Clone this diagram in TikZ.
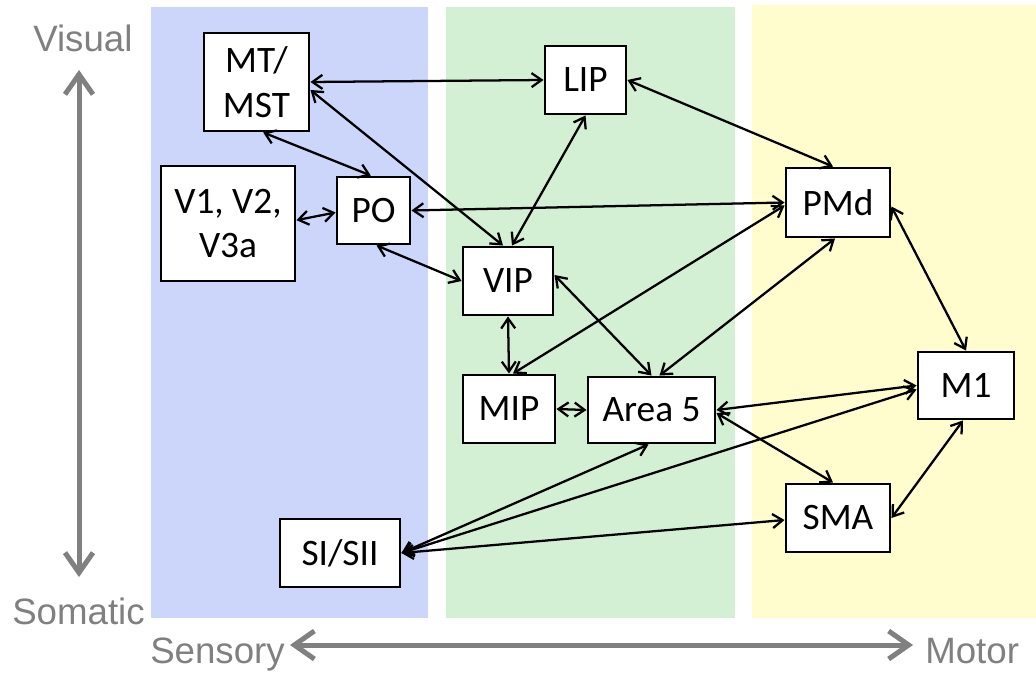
\documentclass[tikz,border=0pt]{standalone}
\usepackage{fontspec}
\setmainfont{Carlito}
\newfontfamily\arialfont{Liberation Sans}
\usetikzlibrary{arrows.meta}
\definecolor{panelblue}{RGB}{204,214,250}
\definecolor{panelgreen}{RGB}{212,240,212}
\definecolor{panelyellow}{RGB}{255,253,206}
\definecolor{axisgray}{RGB}{128,128,128}
\begin{document}
\begin{tikzpicture}[x=0.75pt,y=-0.75pt,
  area/.style={draw=black,line width=2.2pt,fill=white,inner sep=0pt,align=center,font=\fontsize{28}{33.5}\selectfont},
  link/.style={line width=1.7pt,{Straight Barb[length=7.5pt,width=10.5pt]}-{Straight Barb[length=7.5pt,width=10.5pt]}},
  axisarrow/.style={draw=axisgray,line width=3.75pt,{Straight Barb[length=15pt,width=21pt]}-{Straight Barb[length=15pt,width=21pt]}},
  axislabel/.style={text=axisgray,font=\arialfont\fontsize{27.5}{33}\selectfont,inner sep=0pt,anchor=base west}]
\useasboundingbox (0,0) rectangle (1036,674);
\fill[white] (0,0) rectangle (1036,674);
% panels
\fill[panelblue] (151,7) rectangle (428,618);
\fill[panelgreen] (446,7) rectangle (735,618);
\fill[panelyellow] (752,5) rectangle (1036,618);
% axes
\coordinate (vtop) at (79,70);
\coordinate (vbot) at (79,577);
\coordinate (hleft) at (290,645);
\coordinate (hright) at (913,645);
\draw[axisarrow] (vtop) -- (vbot);
\draw[axisarrow] (hleft) -- (hright);
\node[axislabel] (visual) at (33,52) {Visual};
\node[axislabel] (somatic) at (12,624) {Somatic};
\node[axislabel] (sensory) at (150,663) {Sensory};
\node[axislabel] (motor) at (925,663) {Motor};
% areas
\node[area,minimum width=78.75pt,minimum height=73.5pt] (mt) at (256.5,82) {MT/\\MST};
\node[area,minimum width=100.5pt,minimum height=86.25pt] (v1) at (228,223.5) {V1, V2,\\V3a};
\node[area,minimum width=54.75pt,minimum height=50.25pt] (po) at (373.5,210.5) {PO};
\node[area,minimum width=60.75pt,minimum height=51pt] (lip) at (585.5,80) {LIP};
\node[area,minimum width=78pt,minimum height=51.75pt] (pmd) at (838,202.5) {PMd};
\node[area,minimum width=67.5pt,minimum height=51pt] (vip) at (508,281) {VIP};
\node[area,minimum width=69pt,minimum height=51pt] (mip) at (509,409) {MIP};
\node[area,minimum width=95.25pt,minimum height=49.5pt] (a5) at (651.5,410) {Area 5};
\node[area,minimum width=72pt,minimum height=50.25pt] (m1) at (966,385.5) {M1};
\node[area,minimum width=78pt,minimum height=51pt] (sma) at (838,518) {SMA};
\node[area,minimum width=90pt,minimum height=51pt] (si) at (340,553) {SI/SII};
% connections
\draw[link] (mt.east) -- (lip.west);
\draw[link] ([yshift=-6pt]mt.east) -- ([xshift=-3.75pt]vip.north);
\draw[link] ([xshift=5pt]mt.south) -- ([xshift=-2pt]po.north);
\draw[link] ([yshift=2.5pt]v1.east) -- ([yshift=-1.5pt]po.west);
\draw[link] (po.east) -- (pmd.west);
\draw[link] ([xshift=2.25pt]po.south) -- (vip.west);
\draw[link] (lip.east) -- ([xshift=-3.75pt]pmd.north);
\draw[link] (lip.south) -- ([xshift=3pt]vip.north);
\draw[link] (vip.south) -- (mip.north);
\draw[link] ([yshift=4.5pt]vip.east) -- (a5.north);
\draw[link] ([xshift=3pt]mip.north) -- ([yshift=-2.25pt]pmd.west);
\draw[link] ([xshift=6pt]a5.north) -- ([xshift=-2.25pt]pmd.south);
\draw[link] (mip.east) -- (a5.west);
\draw[link] ([yshift=-3pt]pmd.east) -- (m1.north);
\draw[link] (a5.east) -- (m1.west);
\draw[link] ([yshift=-2.25pt]a5.east) -- ([xshift=-3.75pt]sma.north);
\draw[link] ([xshift=-2.25pt]m1.south) -- (sma.east);
\draw[link] (si.east) -- ([xshift=-2.25pt]a5.south);
\draw[link] (si.east) -- ([yshift=-3pt]m1.west);
\draw[link] (si.east) -- ([yshift=-1.5pt]sma.west);
\end{tikzpicture}
\end{document}
